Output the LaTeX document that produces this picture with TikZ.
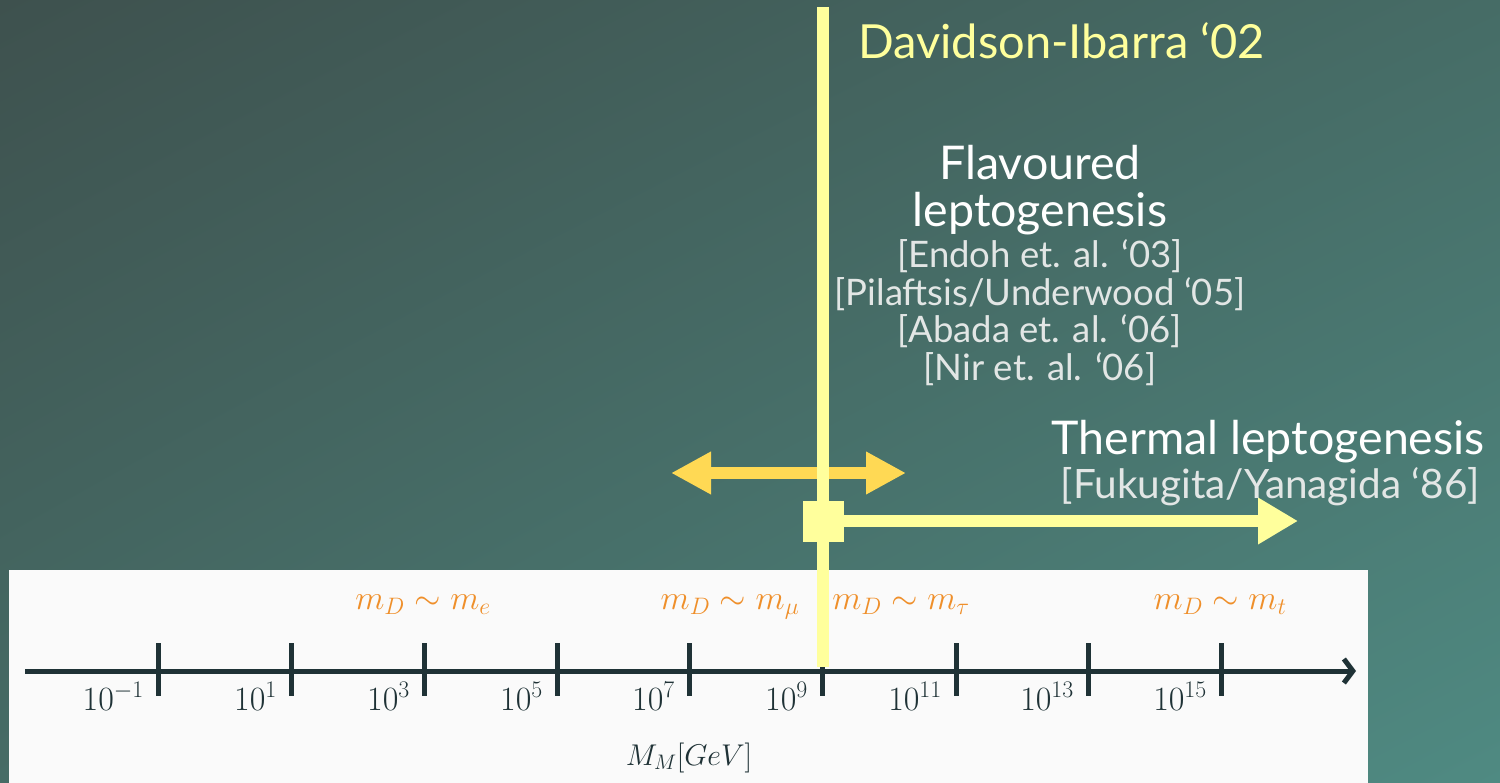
\documentclass[tikz,border=0pt]{standalone}
\usepackage{fix-cm}
\usepackage[no-math]{fontspec}
\setmainfont{Lato}
\usepackage{tikz}
\usetikzlibrary{arrows.meta,positioning,shadings}
\definecolor{bgtl}{HTML}{3E514E}
\definecolor{bgmid}{HTML}{466C66}
\definecolor{bgbr}{HTML}{4F8A82}
\definecolor{panel}{HTML}{FAFAFA}
\definecolor{axisc}{HTML}{1F3236}
\definecolor{massorange}{HTML}{EF8F2A}
\definecolor{paleyellow}{HTML}{FFFF9C}
\definecolor{gold}{HTML}{FFD954}
\definecolor{citegray}{HTML}{E2E6E5}

\begin{document}
\begin{tikzpicture}[x=1pt, y=-1pt,
  title/.style={font=\fontsize{46.5}{46.5}\selectfont, text=white, inner sep=0pt},
  cite/.style={font=\fontsize{36.5}{36.5}\selectfont, text=citegray, inner sep=0pt},
  ticklabel/.style={font=\fontsize{34}{34}\selectfont, text=axisc, inner sep=0pt},
  masslabel/.style={font=\fontsize{34}{34}\selectfont, text=massorange, inner sep=0pt},
  bar/.style={draw=axisc, line width=5pt},
  fat/.style={line width=12pt, -{Triangle[length=40pt, width=44pt]}}]
  % background and scale panel
  \shade[upper left=bgtl, lower right=bgbr, upper right=bgmid, lower left=bgmid] (0,0) rectangle (1500,783);
  \fill[panel] (9,570) rectangle (1368,783);
  % mass axis
  \coordinate (axl) at (25,671);
  \coordinate (axr) at (1356,671);
  \draw[bar, -{Straight Barb[length=9pt, width=24pt]}] (axl) -- (axr);
  \foreach \x/\e [count=\i] in {158/-1, 291/1, 424/3, 557/5, 689/7, 822/9, 956/11, 1088/13, 1221/15} {
    \draw[bar] (\x,643) -- (\x,696);
    \node[ticklabel, anchor=base east] (p\i) at (\x-14,710) {$10^{\e}$};
  }
  \node[ticklabel, font=\fontsize{30}{30}\selectfont, anchor=base] (unit) at (689,765) {$M_M[GeV]$};
  \node[masslabel, anchor=base] (me) at (423,609) {$m_D\sim m_e$};
  \node[masslabel, anchor=base] (mmu) at (730,609) {$m_D\sim m_\mu$};
  \node[masslabel, anchor=base] (mtau) at (901,609) {$m_D\sim m_\tau$};
  \node[masslabel, anchor=base] (mt) at (1220,609) {$m_D\sim m_t$};
  % flavour window
  \coordinate (fl) at (671,473);
  \coordinate (fr) at (906,473);
  \draw[gold, line width=12pt, {Triangle[length=40pt, width=40pt]}-{Triangle[length=40pt, width=40pt]}] (fl) -- (fr);
  % Davidson-Ibarra bound
  \coordinate (di) at (823,7);
  \coordinate (dib) at (823,667);
  \draw[paleyellow, line width=12pt] (di) -- (dib);
  \node[fill=paleyellow, minimum size=41pt, inner sep=0pt] (sq) at (823.5,521) {};
  \coordinate (th) at (1298,521);
  \draw[paleyellow, fat] (sq.east) -- (th);
  % texts
  \node[font=\fontsize{47}{47}\selectfont, text=paleyellow, inner sep=0pt, anchor=base west] (dav) at (858,59) {Davidson-Ibarra ‘02};
  \node[title, anchor=base] (flav) at (1040,180) {Flavoured};
  \node[title, anchor=base] (lepto) at ([yshift=-47pt]flav.base) {leptogenesis};
  \node[cite, anchor=base] (c1) at (1040,268) {[Endoh et. al. ‘03]};
  \node[cite, anchor=base] (c2) at ([yshift=-37.5pt]c1.base) {[Pilaftsis/Underwood ‘05]};
  \node[cite, anchor=base] (c3) at ([yshift=-37.5pt]c2.base) {[Abada et. al. ‘06]};
  \node[cite, anchor=base] (c4) at ([yshift=-37.5pt]c3.base) {[Nir et. al. ‘06]};
  \node[title, anchor=base east] (therm) at (1485,455) {Thermal leptogenesis};
  \node[cite, font=\fontsize{40.5}{40.5}\selectfont, anchor=base east] (fy) at (1480,498) {[Fukugita/Yanagida ‘86]};
\end{tikzpicture}
\end{document}
